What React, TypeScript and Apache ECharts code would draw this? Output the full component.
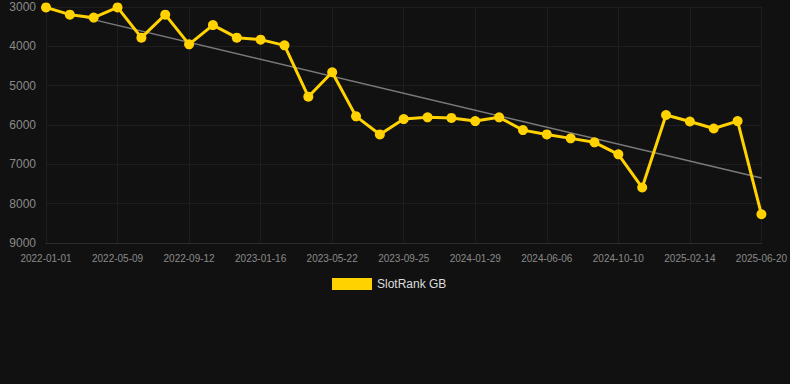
import React, { useEffect, useRef } from "react";
import * as echarts from "echarts";

const categories: string[] = [
  "2022-01-01", "2022-02-12", "2022-03-26", "2022-05-09", "2022-06-20", "2022-08-01",
  "2022-09-12", "2022-10-24", "2022-12-05", "2023-01-16", "2023-02-27", "2023-04-10",
  "2023-05-22", "2023-07-03", "2023-08-14", "2023-09-25", "2023-11-06", "2023-12-18",
  "2024-01-29", "2024-03-11", "2024-04-24", "2024-06-06", "2024-07-18", "2024-08-29",
  "2024-10-10", "2024-11-21", "2025-01-02", "2025-02-14", "2025-03-28", "2025-05-09",
  "2025-06-20",
];

const slotRankGB: number[] = [
  3010, 3195, 3270, 3010, 3780, 3195, 3950, 3460, 3780, 3830,
  3975, 5280, 4660, 5780, 6240, 5850, 5805, 5820, 5900, 5805,
  6130, 6240, 6340, 6440, 6745, 7590, 5745, 5910, 6090, 5900,
  8270,
];

const trendStart = 3035;
const trendEnd = 7350;

const yTicks = { min: 3000, max: 9000, interval: 1000 };

export default function App() {
  const ref = useRef<HTMLDivElement>(null);
  useEffect(() => {
    document.body.style.margin = "0";
    document.body.style.background = "#111111";
    if (!ref.current) return;
    const chart = echarts.init(ref.current, null, { renderer: "svg" });
    const trendData = categories.map((_, i) =>
      i === 0 ? trendStart : i === categories.length - 1 ? trendEnd : null
    );
    chart.setOption({
      animation: false,
      backgroundColor: "#111111",
      grid: { left: 46, right: 28, top: 7, bottom: 141 },
      legend: {
        data: [{ name: "SlotRank GB", icon: "rect" }],
        top: 278,
        left: 332,
        padding: 0,
        itemWidth: 40,
        itemHeight: 12,
        itemGap: 6,
        textStyle: { color: "#dddddd", fontSize: 12, fontFamily: "Liberation Sans, Arial, sans-serif" },
      },
      xAxis: {
        type: "category",
        data: categories,
        boundaryGap: false,
        axisLine: { show: true, lineStyle: { color: "#2c2c2c" } },
        axisTick: { show: false, interval: 2 },
        axisLabel: {
          interval: 2,
          color: "#8a8a8a",
          fontSize: 10,
          margin: 10,
          fontFamily: "Liberation Sans, Arial, sans-serif",
        },
        splitLine: { show: true, interval: 2, lineStyle: { color: "#1e1e1e" } },
      },
      yAxis: {
        type: "value",
        inverse: true,
        min: yTicks.min,
        max: yTicks.max,
        interval: yTicks.interval,
        axisLine: { show: false },
        axisTick: { show: false },
        axisLabel: {
          color: "#8a8a8a",
          fontSize: 12,
          margin: 10,
          formatter: (v: number) => String(v),
          fontFamily: "Liberation Sans, Arial, sans-serif",
        },
        splitLine: { show: true, lineStyle: { color: "#1e1e1e" } },
      },
      series: [
        {
          name: "Trend",
          type: "line",
          data: trendData,
          connectNulls: true,
          showSymbol: false,
          symbol: "none",
          lineStyle: { color: "#7a7a7a", width: 1.5 },
          itemStyle: { color: "#7a7a7a" },
          z: 1,
          silent: true,
        },
        {
          name: "SlotRank GB",
          type: "line",
          data: slotRankGB,
          symbol: "circle",
          symbolSize: 10,
          lineStyle: { color: "#FFD200", width: 3 },
          itemStyle: { color: "#FFD200" },
          z: 2,
        },
      ],
    });
    return () => chart.dispose();
  }, []);
  return (
    <div
      ref={ref}
      style={{ position: "absolute", left: 0, top: 0, width: 790, height: 384 }}
    />
  );
}
